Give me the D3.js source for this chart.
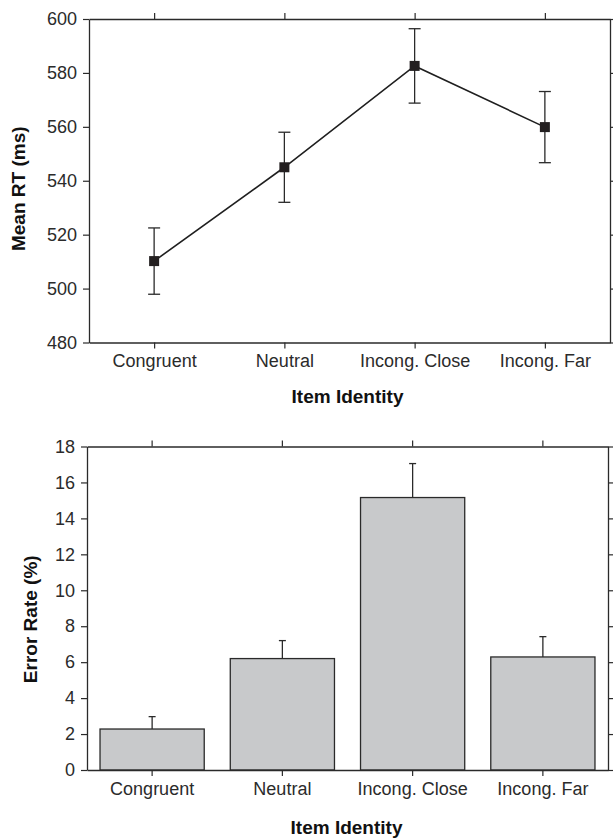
<!DOCTYPE html>
<html>
<head>
<meta charset="utf-8">
<script src="https://cdn.jsdelivr.net/npm/d3@7"></script>
<style>
  html, body { margin: 0; padding: 0; background: #fff; }
  svg text { font-family: "Liberation Sans", Arial, Helvetica, sans-serif; }
</style>
</head>
<body>
<svg id="chart" width="613" height="838"></svg>
<script>
const categories = ["Congruent", "Neutral", "Incong. Close", "Incong. Far"];
const rtMeans = [510.2, 545.0, 582.6, 559.9];
const rtErrors = [12.3, 13.0, 13.8, 13.2];
const rtTicks = [480, 500, 520, 540, 560, 580, 600];
const errMeans = [2.28, 6.20, 15.16, 6.29];
const errErrors = [0.69, 1.00, 1.89, 1.13];
const errTicks = [0, 2, 4, 6, 8, 10, 12, 14, 16, 18];

const svg = d3.select("#chart");
const ink = "#2a2a2a";
const textCol = "#2b2b2b";

function styleAxis(g, showLabels) {
  g.select(".domain").attr("stroke", ink).attr("stroke-width", 1.3);
  g.selectAll(".tick line").attr("stroke", ink).attr("stroke-width", 1.2);
  g.selectAll(".tick text").attr("fill", textCol).style("font-size", "18px");
  if (!showLabels) g.selectAll(".tick text").remove();
}

// ---------- Top chart: Mean RT ----------
const t = { left: 89, right: 610, top: 19, bottom: 342.5 };
const x1 = d3.scalePoint().domain(categories).range([t.left, t.right]).padding(0.5);
const y1 = d3.scaleLinear().domain([480, 600]).range([t.bottom, t.top]);

const gTop = svg.append("g");
gTop.append("g").attr("transform", `translate(0,${t.bottom})`)
  .call(d3.axisBottom(x1).tickSize(6).tickPadding(6).tickSizeOuter(0))
  .call(g => styleAxis(g, true));
gTop.append("g").attr("transform", `translate(0,${t.top})`)
  .call(d3.axisTop(x1).tickSize(6).tickSizeOuter(0))
  .call(g => styleAxis(g, false));
gTop.append("g").attr("transform", `translate(${t.left},0)`)
  .call(d3.axisLeft(y1).tickValues(rtTicks).tickSize(6).tickPadding(6).tickSizeOuter(0))
  .call(g => styleAxis(g, true));
gTop.append("g").attr("transform", `translate(${t.right},0)`)
  .call(d3.axisRight(y1).tickValues(rtTicks).tickSize(6).tickSizeOuter(0))
  .call(g => styleAxis(g, false));

// error bars
const rtData = categories.map((c, i) => ({ c, m: rtMeans[i], e: rtErrors[i] }));
const eb = gTop.append("g").attr("stroke", ink).attr("stroke-width", 1.3);
rtData.forEach(d => {
  const cx = x1(d.c);
  eb.append("line").attr("x1", cx).attr("x2", cx).attr("y1", y1(d.m - d.e)).attr("y2", y1(d.m + d.e));
  eb.append("line").attr("x1", cx - 6).attr("x2", cx + 6).attr("y1", y1(d.m + d.e)).attr("y2", y1(d.m + d.e));
  eb.append("line").attr("x1", cx - 6).attr("x2", cx + 6).attr("y1", y1(d.m - d.e)).attr("y2", y1(d.m - d.e));
});
gTop.append("path").datum(rtData)
  .attr("fill", "none").attr("stroke", "#1f1f1f").attr("stroke-width", 1.6)
  .attr("d", d3.line().x(d => x1(d.c)).y(d => y1(d.m)));
gTop.selectAll("rect.mk").data(rtData).join("rect")
  .attr("x", d => x1(d.c) - 5).attr("y", d => y1(d.m) - 5)
  .attr("width", 10).attr("height", 10).attr("fill", "#231f20");

gTop.append("text").attr("x", (t.left + t.right) / 2 - 2).attr("y", 403)
  .attr("text-anchor", "middle").attr("font-weight", "bold").style("font-size", "19px")
  .attr("fill", "#111").text("Item Identity");
gTop.append("text").attr("transform", `translate(25,${(t.top + t.bottom) / 2 + 8}) rotate(-90)`)
  .attr("text-anchor", "middle").attr("font-weight", "bold").style("font-size", "19px")
  .attr("fill", "#111").text("Mean RT (ms)");

// ---------- Bottom chart: Error rate ----------
const b = { left: 87, right: 608, top: 446.5, bottom: 770 };
const x2 = d3.scaleBand().domain(categories).range([b.left, b.right]).paddingInner(0.2).paddingOuter(0.1);
const y2 = d3.scaleLinear().domain([0, 18]).range([b.bottom, b.top]);

const gBot = svg.append("g");
const errData = categories.map((c, i) => ({ c, m: errMeans[i], e: errErrors[i] }));
const eb2 = gBot.append("g").attr("stroke", ink).attr("stroke-width", 1.3);
errData.forEach(d => {
  const cx = x2(d.c) + x2.bandwidth() / 2;
  eb2.append("line").attr("x1", cx).attr("x2", cx).attr("y1", y2(d.m)).attr("y2", y2(d.m + d.e));
  eb2.append("line").attr("x1", cx - 3.5).attr("x2", cx + 3.5).attr("y1", y2(d.m + d.e)).attr("y2", y2(d.m + d.e));
});
gBot.selectAll("rect.bar").data(errData).join("rect")
  .attr("x", d => x2(d.c)).attr("y", d => y2(d.m))
  .attr("width", x2.bandwidth()).attr("height", d => y2(0) - y2(d.m))
  .attr("fill", "#c8c9cb").attr("stroke", ink).attr("stroke-width", 1.3);

gBot.append("g").attr("transform", `translate(0,${b.bottom})`)
  .call(d3.axisBottom(x2).tickSize(6).tickPadding(6).tickSizeOuter(0))
  .call(g => styleAxis(g, true));
gBot.append("g").attr("transform", `translate(0,${b.top})`)
  .call(d3.axisTop(x2).tickSize(6).tickSizeOuter(0))
  .call(g => styleAxis(g, false));
gBot.append("g").attr("transform", `translate(${b.left},0)`)
  .call(d3.axisLeft(y2).tickValues(errTicks).tickSize(6).tickPadding(6).tickSizeOuter(0))
  .call(g => styleAxis(g, true));
gBot.append("g").attr("transform", `translate(${b.right},0)`)
  .call(d3.axisRight(y2).tickValues(errTicks).tickSize(6).tickSizeOuter(0))
  .call(g => styleAxis(g, false));

gBot.append("text").attr("x", (b.left + b.right) / 2 - 1).attr("y", 834)
  .attr("text-anchor", "middle").attr("font-weight", "bold").style("font-size", "19px")
  .attr("fill", "#111").text("Item Identity");
gBot.append("text").attr("transform", `translate(37,${(b.top + b.bottom) / 2 + 11}) rotate(-90)`)
  .attr("text-anchor", "middle").attr("font-weight", "bold").style("font-size", "19px")
  .attr("fill", "#111").text("Error Rate (%)");
</script>
</body>
</html>
